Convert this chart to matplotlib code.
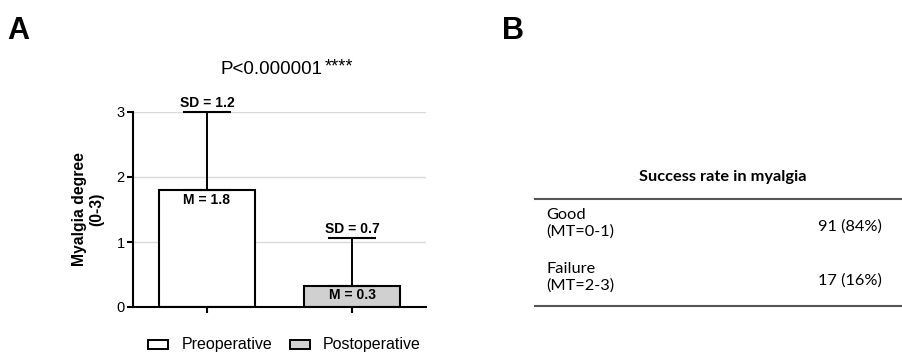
import matplotlib
matplotlib.use("Agg")
import matplotlib.pyplot as plt
from matplotlib.patches import Rectangle
from matplotlib.lines import Line2D

groups = ["Preoperative", "Postoperative"]
means = [1.8, 0.33]
sds = [1.2, 0.73]
mean_labels = ["M = 1.8", "M = 0.3"]
sd_labels = ["SD = 1.2", "SD = 0.7"]
bar_colors = ["white", "#d0d0d0"]
yticks = [0, 1, 2, 3]
p_text = "P<0.000001"
stars = "****"

table_title = "Success rate in myalgia"
row_labels = ["Good\n(MT=0-1)", "Failure\n(MT=2-3)"]
row_values = ["91 (84%)", "17 (16%)"]

W, H = 902, 352
fig = plt.figure(figsize=(W / 100, H / 100), dpi=100)
plt.rcParams['font.family'] = ['Liberation Sans', 'DejaVu Sans']

def fx(px):
    return px / W

def fy(py):
    return 1 - py / H

ax = fig.add_axes([fx(133), fy(307), fx(426) - fx(133), fy(112) - fy(307)])
x = list(range(len(groups)))
ax.set_axisbelow(True)
ax.yaxis.grid(True, color="#d9d9d9", linewidth=1.0)
bars = ax.bar(x, means, width=0.66, color=bar_colors, edgecolor="black", linewidth=1.5, zorder=2)
ax.errorbar(x, means, yerr=[[0] * len(sds), sds], fmt="none", ecolor="black",
            elinewidth=1.4, capsize=17, capthick=1.5, zorder=3, clip_on=False)
for xi, m, s, ml, sl in zip(x, means, sds, mean_labels, sd_labels):
    ax.text(xi, m - 0.04, ml, ha="center", va="top", fontsize=10, fontweight="bold", zorder=4)
    ax.text(xi, m + s + 0.03, sl, ha="center", va="bottom", fontsize=10, fontweight="bold", zorder=4)

ax.set_xlim(-0.51, 1.51)
ax.set_ylim(0, 3)
ax.set_yticks(yticks)
ax.set_xticks(x)
ax.set_xticklabels([])
ax.tick_params(axis="y", labelsize=10.5, width=1.5, length=4, pad=2)
ax.tick_params(axis="x", width=1.5, length=4)
for sp in ["top", "right"]:
    ax.spines[sp].set_visible(False)
for sp in ["left", "bottom"]:
    ax.spines[sp].set_linewidth(1.5)
ax.set_ylabel("Myalgia degree\n(0-3)", fontsize=11.3, fontweight="bold", labelpad=9, linespacing=1.15)

fig.text(fx(220), fy(70), p_text, fontsize=13.5, ha="left", va="center")
fig.text(fx(325), fy(67), stars, fontsize=13, ha="left", va="center")

fig.text(fx(7), fy(31), "A", fontsize=22, fontweight="bold", ha="left", va="center")
fig.text(fx(502), fy(31), "B", fontsize=22, fontweight="bold", ha="left", va="center")

# legend
leg_items = [(148, 182), (290, 323)]
for (bx, tx), g, c in zip(leg_items, groups, bar_colors):
    fig.patches.append(Rectangle((fx(bx), fy(349)), fx(20), fy(340) - fy(349),
                                 transform=fig.transFigure, facecolor=c,
                                 edgecolor="black", linewidth=1.4))
    fig.text(fx(tx), fy(344), g, fontsize=11.5, ha="left", va="center")

# table B
tfont = ['Lato', 'DejaVu Sans']
fig.text(fx(723), fy(177), table_title, fontsize=11.8, fontweight="bold",
         ha="center", va="center", family=tfont)
for yy in [199, 306]:
    fig.add_artist(Line2D([fx(535), fx(902)], [fy(yy), fy(yy)],
                          transform=fig.transFigure, color="#555555", linewidth=1.5))
row_y = [223, 277]
for ry, lab, val in zip(row_y, row_labels, row_values):
    fig.text(fx(546), fy(ry), lab, fontsize=11.8, ha="left", va="center",
             family=tfont, linespacing=1.2)
    fig.text(fx(882), fy(ry + 4), val, fontsize=11.8, ha="right", va="center", family=tfont)

fig.savefig("out.png", dpi=100)
